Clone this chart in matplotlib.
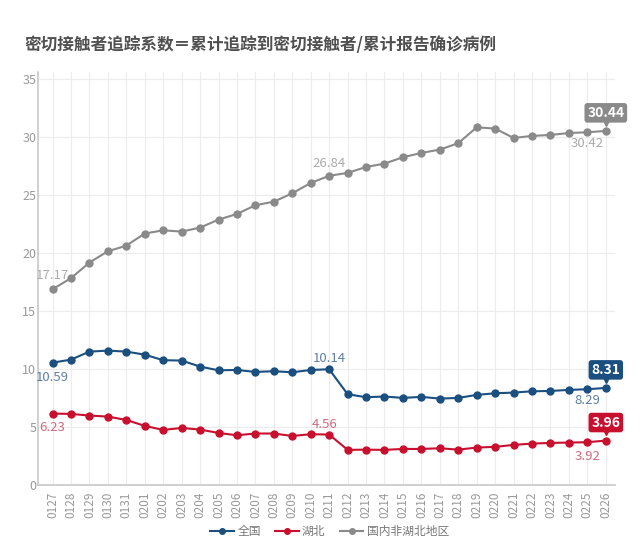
import matplotlib.pyplot as plt
from matplotlib.transforms import offset_copy

plt.rcParams['font.family'] = ['Noto Sans CJK SC', 'DejaVu Sans']

# dates (MMDD)
dates = ['0127', '0128', '0129', '0130', '0131',
         '0201', '0202', '0203', '0204', '0205', '0206', '0207', '0208', '0209', '0210',
         '0211', '0212', '0213', '0214', '0215', '0216', '0217', '0218', '0219', '0220',
         '0221', '0222', '0223', '0224', '0225', '0226']

# 全国
national = [10.54, 10.80, 11.49, 11.58, 11.49, 11.23, 10.75, 10.72, 10.20, 9.88, 9.91,
            9.74, 9.80, 9.71, 9.91, 9.97, 7.82, 7.56, 7.62, 7.50, 7.59, 7.44, 7.50,
            7.76, 7.90, 7.96, 8.07, 8.10, 8.19, 8.25, 8.36]
# 湖北
hubei = [6.15, 6.12, 5.98, 5.89, 5.60, 5.09, 4.74, 4.91, 4.77, 4.48, 4.28, 4.43,
         4.43, 4.22, 4.37, 4.34, 3.02, 3.04, 3.02, 3.10, 3.10, 3.16, 3.04, 3.22,
         3.28, 3.45, 3.56, 3.62, 3.65, 3.68, 3.82]
# 国内非湖北地区
other = [16.87, 17.82, 19.17, 20.14, 20.63, 21.67, 21.95, 21.84, 22.18, 22.87, 23.36,
         24.11, 24.42, 25.14, 26.03, 26.65, 26.90, 27.41, 27.70, 28.25, 28.62, 28.91,
         29.46, 30.83, 30.72, 29.91, 30.09, 30.17, 30.34, 30.40, 30.52]

# labels as printed on the chart
other_labels = {0: '17.17', 15: '26.84', 29: '30.42'}
national_labels = {0: '10.59', 15: '10.14', 29: '8.29'}
hubei_labels = {0: '6.23', 15: '4.56', 29: '3.92'}
last_labels = ['30.44', '8.31', '3.96']

series_names = ['全国', '湖北', '国内非湖北地区']
colors = ['#1b4f80', '#c8102e', '#8a8a8a']
label_colors = ['#5f7fa3', '#d16a80', '#ababab']

fig = plt.figure(figsize=(6.4, 5.58), dpi=100)
ax = fig.add_axes([0.059, 0.131, 0.902, 0.740])

x = list(range(len(dates)))
for vals, name, c in zip([national, hubei, other], series_names, colors):
    ax.plot(x, vals, color=c, lw=1.5, marker='o', markersize=5, label=name, zorder=3)

ax.set_xlim(-0.8, 30.5)
ax.set_ylim(0, 35.6)
ax.set_yticks([0, 5, 10, 15, 20, 25, 30, 35])
ax.set_xticks(x)
ax.set_xticklabels(dates, rotation=90)
ax.tick_params(axis='both', length=0, colors='#999999', labelsize=8.5)
ax.tick_params(axis='y', pad=1, labelsize=9)
ax.tick_params(axis='x', pad=5)
ax.grid(True, color='#ececec', lw=0.8, zorder=0)
for s in ['top', 'right']:
    ax.spines[s].set_visible(False)
for s in ['left', 'bottom']:
    ax.spines[s].set_color('#c8c8c8')
    ax.spines[s].set_linewidth(1.2)

# point labels
def note(i, vals, txt, dx, dy, c):
    ax.annotate(txt, (i, vals[i]), xytext=(dx, dy), textcoords='offset points',
                ha='center', va='center', color=c, fontsize=9.5, zorder=5)

offsets = {0: [(0, 10), (0, -11), (0, -10)],
           15: [(0, 9), (0, 8), (-3, 7)],
           29: [(0, -8), (0, -8), (0, -10)]}
for k, (vals, labs, c) in enumerate(zip([other, national, hubei],
                                        [other_labels, national_labels, hubei_labels],
                                        [label_colors[2], label_colors[0], label_colors[1]])):
    for i, txt in labs.items():
        dx, dy = offsets[i][k]
        note(i, vals, txt, dx, dy, c)

# boxed labels on last point
last = len(dates) - 1
for vals, txt, c in zip([other, national, hubei], last_labels, [colors[2], colors[0], colors[1]]):
    ax.annotate(txt, (last, vals[last]), xytext=(0, 13), textcoords='offset points',
                ha='center', va='center', color='white', fontsize=10, fontweight='bold',
                bbox=dict(boxstyle='round,pad=0.2', fc=c, ec='none'), zorder=6)
    tr = offset_copy(ax.transData, fig=fig, x=0, y=6, units='points')
    ax.plot([last], [vals[last]], marker='v', markersize=4, color=c, transform=tr,
            clip_on=False, zorder=6)

fig.text(0.039, 0.919, '密切接触者追踪系数＝累计追踪到密切接触者/累计报告确诊病例',
         fontsize=12, fontweight='bold', color='#505050', va='center')

fig.legend(loc='center', bbox_to_anchor=(0.515, 0.048), ncol=3, frameon=False,
           fontsize=8.5, labelcolor='#777777', handlelength=2, handletextpad=0.3,
           columnspacing=1.2, markerscale=0.8)

fig.savefig('out.png', dpi=100, facecolor='white')
